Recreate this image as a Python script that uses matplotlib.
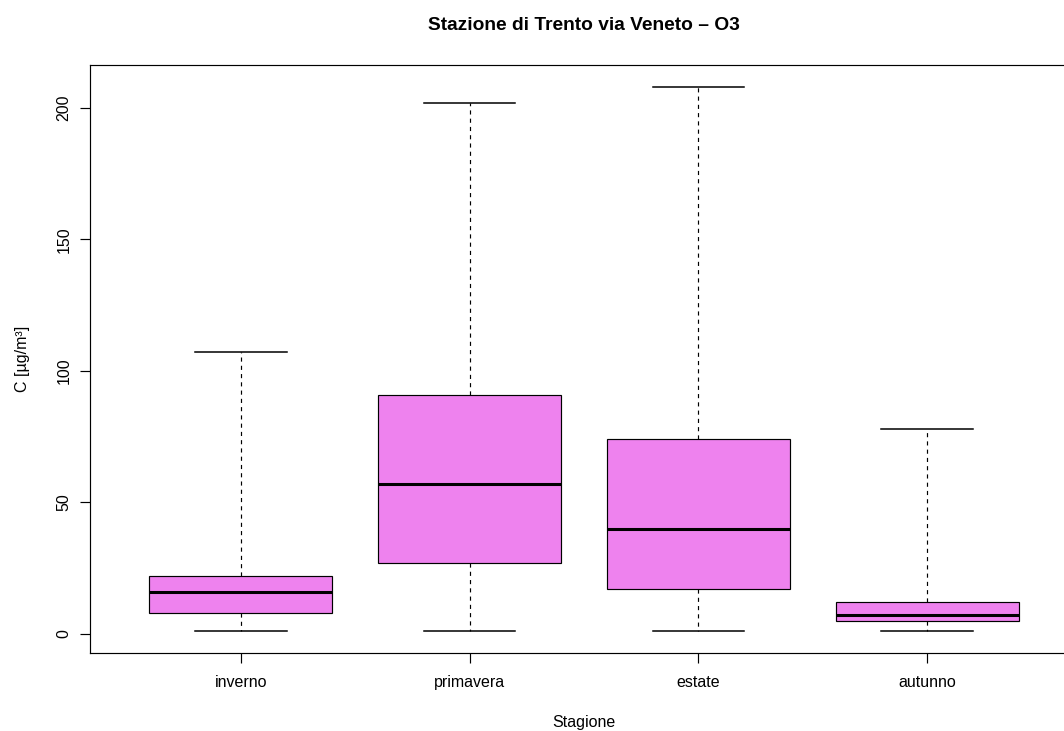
import matplotlib
matplotlib.use("Agg")
import matplotlib.pyplot as plt

plt.rcParams['font.family'] = ['Liberation Sans', 'DejaVu Sans']

# valori (O3, Trento via Veneto)
stagioni = ["inverno", "primavera", "estate", "autunno"]
whis_lo = [1, 1, 1, 1]
q1 = [8, 27, 17, 5]
mediana = [16, 57, 40, 7]
q3 = [22, 91, 74, 12]
whis_hi = [107, 202, 208, 78]

stats = []
for i in range(len(stagioni)):
    stats.append({'label': stagioni[i], 'whislo': whis_lo[i], 'q1': q1[i],
                  'med': mediana[i], 'q3': q3[i], 'whishi': whis_hi[i]})

W, H = 1064, 731
fig = plt.figure(figsize=(W / 100, H / 100), dpi=100)
# l'area del grafico esce dal bordo destro come nel riferimento
ax = fig.add_axes([90 / W, (H - 653) / H, 988 / W, (653 - 65) / H])

lw = 0.85
ax.bxp(stats, positions=[1, 2, 3, 4], widths=0.8, capwidths=0.4,
       showfliers=False, patch_artist=True,
       boxprops=dict(facecolor='#EE82EE', edgecolor='black', linewidth=lw),
       medianprops=dict(color='black', linewidth=2.2, solid_capstyle='butt'),
       whiskerprops=dict(color='black', linewidth=lw, linestyle=(0, (3.5, 3.5))),
       capprops=dict(color='black', linewidth=1.1))

ax.set_xlim(0.34, 4.66)
ax.set_ylim(-7.28, 216.28)
ax.set_yticks([0, 50, 100, 150, 200])
ax.set_yticklabels(['0', '50', '100', '150', '200'], rotation=90, va='center')
ax.set_xticks([1, 2, 3, 4])
ax.set_xticklabels(stagioni)

for s in ax.spines.values():
    s.set_linewidth(lw)
ax.tick_params(axis='both', length=7, width=lw, labelsize=11.5)
ax.tick_params(axis='x', pad=9)
ax.tick_params(axis='y', pad=6.5)

fig.text(584 / W, 1 - 25 / H, "Stazione di Trento via Veneto \u2013 O3",
         ha='center', va='center', fontsize=13.8, fontweight='bold')
fig.text(584 / W, 1 - 722 / H, "Stagione", ha='center', va='center', fontsize=11.5)
fig.text(23 / W, 1 - 359 / H, "C [\u00b5g/m\u00b3]", ha='center', va='center',
         rotation=90, fontsize=11.5)

fig.savefig("out.png", dpi=100)
